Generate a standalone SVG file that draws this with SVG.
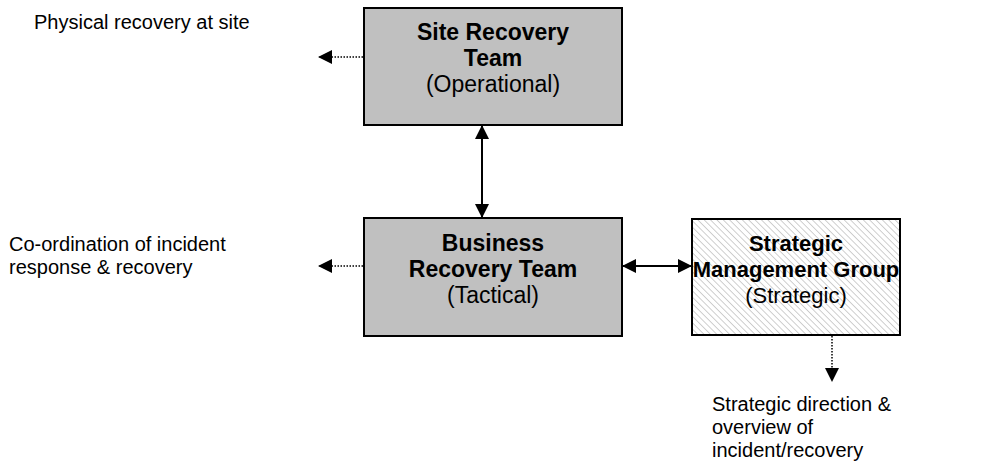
<svg xmlns="http://www.w3.org/2000/svg" width="996" height="466" viewBox="0 0 996 466">
  <defs>
    <pattern id="hatch" patternUnits="userSpaceOnUse" width="4.5" height="4.5" patternTransform="rotate(-45)">
      <rect width="4.5" height="4.5" fill="#ffffff"/>
      <line x1="0" y1="0" x2="0" y2="4.5" stroke="#cacaca" stroke-width="1.8"/>
    </pattern>
    <marker id="head" viewBox="0 0 14 14" refX="13" refY="7" markerWidth="14" markerHeight="14" markerUnits="userSpaceOnUse" orient="auto-start-reverse">
      <path d="M0,0 L14,7 L0,14 Z" fill="#000"/>
    </marker>
  </defs>
  <style>
    .box { stroke: #000; stroke-width: 2; }
    .grey { fill: #c0c0c0; }
    .hatched { fill: url(#hatch); }
    .title { font-family: "Liberation Sans", Arial, sans-serif; font-size: 23px; font-weight: bold; fill: #000; text-anchor: middle; }
    .sub { font-family: "Liberation Sans", Arial, sans-serif; font-size: 23px; fill: #000; text-anchor: middle; }
    .narrow { font-size: 22px; }
    .note { font-family: "Liberation Sans", Arial, sans-serif; font-size: 20px; fill: #000; }
    .solid { stroke: #000; stroke-width: 2; fill: none; }
    .dotted { stroke: #000; stroke-width: 1.5; stroke-dasharray: 1.5 1.5; fill: none; }
  </style>

  <rect width="996" height="466" fill="#ffffff"/>

  <g id="site-recovery-team">
    <rect class="box grey" x="364" y="8" width="258" height="117"/>
    <text class="title" x="493" y="40">Site Recovery</text>
    <text class="title" x="493" y="66">Team</text>
    <text class="sub" x="493" y="92">(Operational)</text>
  </g>

  <g id="business-recovery-team">
    <rect class="box grey" x="364" y="218" width="258" height="118"/>
    <text class="title" x="493" y="251">Business</text>
    <text class="title" x="493" y="277">Recovery Team</text>
    <text class="sub" x="493" y="303">(Tactical)</text>
  </g>

  <g id="strategic-management-group">
    <rect class="box hatched" x="692" y="219" width="208" height="116"/>
    <text class="title narrow" x="796" y="251">Strategic</text>
    <text class="title narrow" x="796" y="277">Management Group</text>
    <text class="sub narrow" x="796" y="303">(Strategic)</text>
  </g>

  <g id="note-site">
    <text class="note" x="34" y="29">Physical recovery at site</text>
  </g>
  <g id="note-business">
    <text class="note" x="9" y="251">Co-ordination of incident</text>
    <text class="note" x="9" y="274">response &amp; recovery</text>
  </g>
  <g id="note-strategic">
    <text class="note" x="712" y="411">Strategic direction &amp;</text>
    <text class="note" x="712" y="434">overview of</text>
    <text class="note" x="712" y="457">incident/recovery</text>
  </g>

  <g id="connectors">
    <line class="solid" x1="482" y1="126" x2="482" y2="217" marker-start="url(#head)" marker-end="url(#head)"/>
    <line class="solid" x1="623" y1="266" x2="691" y2="266" marker-start="url(#head)" marker-end="url(#head)"/>
    <line class="dotted" x1="363" y1="57" x2="319" y2="57" marker-end="url(#head)"/>
    <line class="dotted" x1="363" y1="266" x2="319" y2="266" marker-end="url(#head)"/>
    <line class="dotted" x1="832" y1="336" x2="832" y2="381" marker-end="url(#head)"/>
  </g>
</svg>
